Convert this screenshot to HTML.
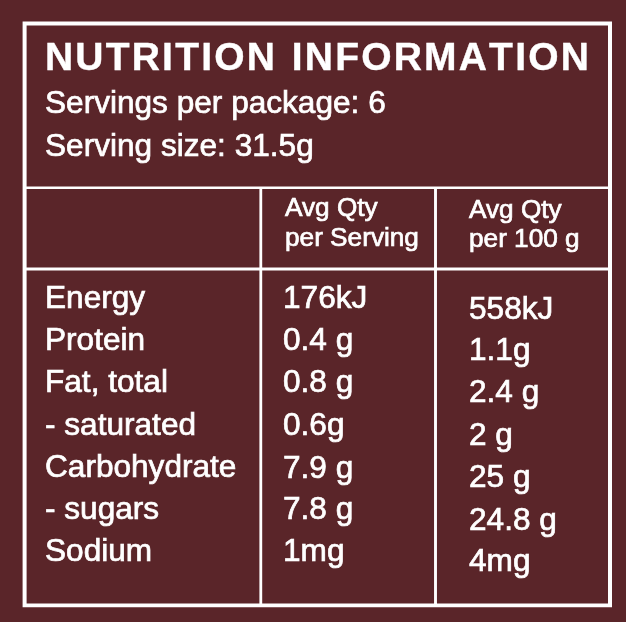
<!DOCTYPE html>
<html>
<head>
<meta charset="utf-8">
<style>
html,body{margin:0;padding:0;}
body{width:626px;height:622px;background:#5a2529;position:relative;overflow:hidden;font-family:"Liberation Sans",sans-serif;color:#ffffff;}
.b{position:absolute;background:#ffffff;}
.t{position:absolute;white-space:nowrap;line-height:1;will-change:transform;-webkit-text-stroke:0.7px #ffffff;}
.ti{-webkit-text-stroke:0.4px #ffffff;font-kerning:none;font-weight:bold;letter-spacing:2.2px;word-spacing:1.6px;}
</style>
</head>
<body>
<svg width="626" height="622" style="position:absolute;left:0;top:0"><path fill="#ffffff" d="M22.6 21.4H612.0V25.4H22.6ZM22.6 603.5H612.0V607.3H22.6ZM22.6 21.4H26.6V607.3H22.6ZM608.0 21.4H612.0V607.3H608.0ZM26.6 186.4H608.0V189.1H26.6ZM26.6 267.5H608.0V270.6H26.6ZM259.4 188.6H262.2V603.5H259.4ZM434.05 188.6H436.95V603.5H434.05Z"/></svg>
<div class="t ti" style="left:44.8px;top:37px;font-size:39.0px;">NUTRITION INFORMATION</div>
<div class="t" style="left:45.0px;top:87px;font-size:31.6px;">Servings per package: 6</div>
<div class="t" style="left:45.0px;top:130px;font-size:31.6px;">Serving size: 31.5g</div>
<div class="t" style="left:285.3px;top:194px;font-size:26.2px;">Avg Qty</div>
<div class="t" style="left:285.3px;top:224px;font-size:26.2px;">per Serving</div>
<div class="t" style="left:469.3px;top:196px;font-size:26.2px;">Avg Qty</div>
<div class="t" style="left:469.3px;top:225px;font-size:26.2px;">per 100 g</div>
<div class="t" style="left:45.15px;top:282px;font-size:31.6px;">Energy</div>
<div class="t" style="left:283.4px;top:282px;font-size:31.6px;">176kJ</div>
<div class="t" style="left:468.9px;top:293px;font-size:31.6px;">558kJ</div>
<div class="t" style="left:45.15px;top:324px;font-size:31.6px;">Protein</div>
<div class="t" style="left:283.4px;top:324px;font-size:31.6px;">0.4 g</div>
<div class="t" style="left:468.9px;top:334px;font-size:31.6px;">1.1g</div>
<div class="t" style="left:45.15px;top:366px;font-size:31.6px;">Fat, total</div>
<div class="t" style="left:283.4px;top:366px;font-size:31.6px;">0.8 g</div>
<div class="t" style="left:468.9px;top:376px;font-size:31.6px;">2.4 g</div>
<div class="t" style="left:45.15px;top:409px;font-size:31.6px;">- saturated</div>
<div class="t" style="left:283.4px;top:409px;font-size:31.6px;">0.6g</div>
<div class="t" style="left:468.9px;top:419px;font-size:31.6px;">2 g</div>
<div class="t" style="left:45.15px;top:451px;font-size:31.6px;">Carbohydrate</div>
<div class="t" style="left:283.4px;top:452px;font-size:31.6px;">7.9 g</div>
<div class="t" style="left:468.9px;top:461px;font-size:31.6px;">25 g</div>
<div class="t" style="left:45.15px;top:493px;font-size:31.6px;">- sugars</div>
<div class="t" style="left:283.4px;top:493px;font-size:31.6px;">7.8 g</div>
<div class="t" style="left:468.9px;top:504px;font-size:31.6px;">24.8 g</div>
<div class="t" style="left:45.15px;top:535px;font-size:31.6px;">Sodium</div>
<div class="t" style="left:283.4px;top:535px;font-size:31.6px;">1mg</div>
<div class="t" style="left:468.9px;top:545px;font-size:31.6px;">4mg</div>
</body>
</html>
